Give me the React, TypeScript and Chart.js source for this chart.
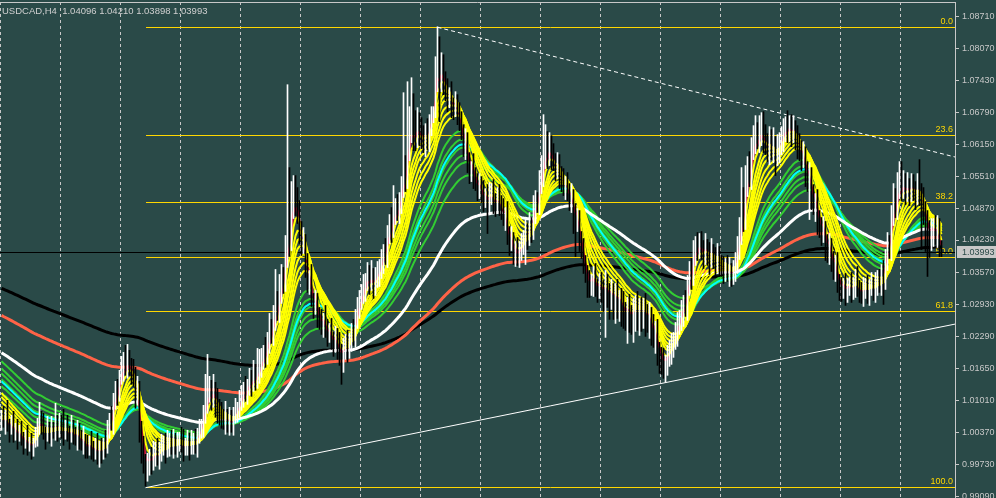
import React, { useEffect, useRef } from "react";
import { Chart, registerables } from "chart.js";

Chart.register(...registerables);

// ---------- data (prices expressed as points above 1.0000, 1 point = 0.0001) ----------
const TITLE = "USDCAD,H4  1.04096 1.04210 1.03898 1.03993";
const PRICE_TICKS = [1.0871, 1.0807, 1.0743, 1.0679, 1.0615, 1.0551, 1.0487, 1.0423, 1.0357, 1.0293, 1.0229, 1.0165, 1.0101, 1.0037, 0.9973, 0.9909];
const BID = 1.03993;
const FIB_LEVELS = [0, 23.6, 38.2, 50, 61.8, 100];
const FIB_HIGH = 1.08505;
const FIB_LOW = 0.99294;
const FIB_START_BAR = 72;
const TREND_RES = [[218, 1.0849], [476, 1.059]];
const TREND_SUP = [[72, 0.9927], [476, 1.0254]];
const FIRST_OPEN = 62;

const CLOSE_PTS = [
  68, 60, 72, 56, 48, 54, 40, 44, 32, 36,
  28, 20, 24, 12, 16, 8, 18, 32, 48, 68,
  56, 40, 32, 44, 36, 48, 40, 56, 44, 52,
  44, 36, 48, 40, 32, 44, 36, 28, 40, 24,
  16, 24, 12, 4, 16, 8, 0, 8, -4, 4,
  0, 12, 8, 44, 64, 56, 100, 120, 112, 148,
  160, 172, 164, 180, 168, 156, 144, 112, 120, 48,
  12, -16, -36, -28, -12, -20, -8, 4, -12, 0,
  8, 16, 0, 12, 24, 12, 20, 8, 16, 28,
  16, 4, 12, 20, 8, 16, 24, 12, 28, 40,
  48, 68, 94, 114, 120, 108, 120, 100, 84, 76,
  68, 60, 72, 56, 64, 52, 68, 76, 84, 96,
  108, 120, 112, 128, 140, 132, 148, 140, 156, 164,
  176, 192, 188, 214, 236, 228, 262, 284, 276, 310,
  344, 336, 392, 432, 420, 480, 512, 498, 476, 440,
  412, 420, 372, 336, 344, 304, 292, 300, 268, 260,
  252, 264, 244, 232, 240, 224, 216, 228, 208, 200,
  188, 204, 216, 204, 224, 236, 228, 268, 284, 304,
  312, 324, 340, 352, 336, 348, 332, 344, 352, 364,
  380, 396, 388, 432, 448, 440, 472, 484, 476, 492,
  520, 552, 540, 600, 640, 656, 632, 628, 648, 636,
  628, 616, 636, 624, 648, 672, 680, 736, 790, 740,
  764, 740, 720, 704, 712, 696, 684, 696, 676, 660,
  640, 612, 620, 576, 560, 568, 552, 536, 524, 532,
  516, 504, 512, 496, 508, 520, 504, 492, 508, 496,
  484, 468, 476, 432, 416, 424, 392, 400, 388, 404,
  412, 424, 436, 428, 452, 444, 484, 500, 496, 532,
  552, 584, 604, 592, 608, 588, 576, 564, 572, 552,
  540, 528, 536, 520, 504, 512, 476, 460, 468, 424,
  404, 380, 352, 336, 328, 340, 352, 332, 324, 336,
  328, 320, 336, 324, 312, 320, 308, 316, 300, 308,
  296, 284, 272, 288, 280, 268, 284, 296, 280, 288,
  280, 292, 276, 268, 276, 248, 236, 244, 204, 192,
  184, 172, 180, 192, 204, 212, 224, 236, 252, 264,
  280, 296, 288, 332, 356, 348, 400, 412, 404, 416,
  404, 392, 408, 396, 384, 400, 388, 380, 392, 376,
  368, 360, 372, 356, 364, 352, 364, 376, 400, 428,
  468, 460, 532, 560, 548, 600, 616, 628, 620, 632,
  640, 624, 612, 604, 616, 600, 608, 592, 604, 612,
  624, 636, 648, 640, 652, 636, 644, 628, 616, 604,
  588, 596, 560, 544, 552, 512, 496, 504, 464, 452,
  440, 448, 416, 404, 412, 380, 368, 376, 340, 328,
  324, 332, 320, 328, 336, 324, 332, 344, 328, 320,
  316, 324, 332, 320, 328, 336, 324, 332, 344, 336,
  352, 344, 388, 412, 404, 468, 496, 488, 524, 532,
  524, 536, 520, 528, 516, 532, 524, 512, 528, 516,
  504, 484, 460, 444, 428, 440, 452, 436, 448, 409.6,
  399.3,
];

const UP_WICK = [
  14, 22, 10, 30, 8, 18, 26, 12, 20, 16,
  24, 10, 18, 28, 12, 20, 8, 16, 18, 30,
  12, 20, 8, 26, 14, 22, 10, 40, 16, 24,
  20, 40, 14, 24, 10, 28, 18, 12, 22, 16,
  18, 26, 10, 20, 14, 24, 12, 18, 28, 16,
  22, 14, 30, 18, 12, 26, 16, 20, 24, 14,
  30, 26, 40, 34, 22, 18, 28, 24, 30, 20,
  12, 18, 10, 24, 16, 20, 28, 14, 22, 18,
  26, 14, 20, 30, 12, 18, 24, 16, 22, 10,
  20, 28, 14, 22, 16, 26, 12, 20, 18, 24,
  16, 24, 60, 80, 30, 22, 34, 18, 26, 20,
  22, 16, 28, 12, 24, 18, 20, 30, 14, 26,
  24, 18, 30, 16, 26, 22, 34, 20, 50, 40,
  30, 20, 36, 24, 40, 28, 30, 80, 36, 44,
  30, 24, 40, 302, 136, 60, 40, 40, 30, 26,
  20, 28, 14, 24, 18, 30, 12, 22, 16, 20,
  24, 12, 28, 20, 16, 26, 14, 22, 18, 30,
  14, 22, 18, 26, 12, 20, 28, 16, 24, 18,
  22, 30, 16, 26, 20, 34, 18, 24, 28, 20,
  24, 18, 30, 20, 26, 40, 60, 22, 30, 26,
  30, 166, 40, 140, 50, 92, 60, 50, 40, 30,
  32, 24, 20, 30, 26, 18, 10, 54, 60, 40,
  34, 30, 20, 26, 16, 28, 12, 24, 18, 22,
  20, 14, 26, 18, 22, 12, 28, 16, 20, 24,
  18, 26, 14, 22, 30, 16, 24, 12, 20, 26,
  16, 22, 12, 24, 18, 26, 14, 20, 28, 16,
  24, 18, 30, 20, 26, 16, 28, 22, 18, 30,
  40, 90, 50, 36, 30, 24, 28, 20, 26, 22,
  18, 26, 14, 22, 16, 24, 12, 20, 18, 14,
  16, 22, 12, 20, 26, 14, 18, 24, 12, 20,
  22, 14, 26, 18, 12, 24, 16, 20, 28, 14,
  18, 24, 14, 20, 26, 12, 22, 16, 24, 18,
  20, 14, 24, 18, 22, 12, 26, 16, 20, 14,
  16, 22, 12, 20, 18, 24, 14, 22, 26, 18,
  22, 16, 26, 20, 24, 30, 22, 18, 26, 20,
  24, 18, 28, 16, 22, 26, 14, 20, 24, 18,
  16, 22, 14, 20, 24, 12, 18, 22, 30, 40,
  100, 60, 40, 30, 40, 28, 36, 44, 30, 40,
  38, 40, 30, 24, 34, 28, 40, 22, 30, 26,
  26, 30, 22, 34, 20, 22, 28, 18, 24, 20,
  18, 24, 14, 20, 26, 16, 22, 12, 20, 18,
  16, 22, 12, 18, 24, 14, 20, 16, 22, 14,
  20, 14, 24, 18, 12, 22, 16, 20, 26, 14,
  18, 24, 14, 20, 16, 22, 12, 26, 18, 20,
  22, 30, 16, 26, 20, 24, 40, 30, 34, 48,
  48, 26, 20, 30, 18, 24, 22, 16, 28, 56,
  20, 24, 16, 22, 18, 26, 14, 20, 24, 18,
  11.4,
];

const DOWN_WICK = [
  20, 12, 26, 16, 30, 14, 22, 18, 28, 12,
  16, 26, 14, 20, 12, 24, 18, 10, 22, 14,
  22, 16, 28, 12, 20, 26, 14, 18, 24, 16,
  18, 24, 12, 20, 28, 14, 22, 16, 26, 20,
  14, 22, 26, 18, 12, 24, 20, 16, 22, 28,
  24, 16, 20, 12, 18, 14, 22, 16, 20, 12,
  14, 20, 12, 18, 16, 22, 14, 26, 20, 30,
  36, 28, 34, 24, 20, 26, 18, 22, 16, 24,
  20, 16, 24, 12, 22, 18, 26, 14, 20, 16,
  18, 24, 12, 20, 26, 14, 22, 16, 24, 12,
  14, 20, 12, 18, 16, 26, 20, 32, 28, 24,
  22, 16, 26, 18, 24, 14, 20, 12, 18, 16,
  14, 20, 12, 18, 16, 22, 12, 18, 14, 20,
  16, 12, 20, 14, 18, 12, 16, 20, 14, 18,
  14, 20, 16, 24, 30, 18, 14, 26, 20, 24,
  20, 16, 24, 18, 22, 14, 26, 18, 20, 16,
  18, 24, 16, 22, 14, 20, 26, 18, 24, 28,
  54, 30, 20, 26, 18, 24, 16, 20, 22, 18,
  20, 16, 24, 18, 22, 14, 26, 20, 16, 22,
  18, 24, 14, 20, 16, 22, 12, 18, 14, 20,
  16, 12, 20, 14, 18, 22, 30, 26, 20, 24,
  22, 18, 26, 20, 24, 16, 14, 12, 16, 80,
  20, 26, 18, 24, 16, 28, 20, 14, 22, 18,
  16, 22, 28, 18, 24, 20, 26, 14, 22, 18,
  18, 24, 16, 60, 20, 14, 28, 22, 16, 24,
  20, 16, 26, 18, 24, 14, 18, 22, 16, 20,
  22, 18, 50, 24, 16, 26, 20, 28, 18, 22,
  16, 22, 18, 26, 20, 24, 14, 22, 18, 26,
  20, 16, 24, 18, 22, 26, 40, 70, 20, 24,
  18, 24, 14, 28, 20, 16, 30, 22, 26, 18,
  30, 40, 92, 36, 48, 28, 44, 52, 34, 40,
  46, 38, 30, 56, 42, 34, 50, 44, 38, 48,
  40, 34, 46, 30, 42, 36, 28, 40, 32, 36,
  30, 26, 34, 28, 22, 30, 24, 20, 26, 18,
  22, 30, 18, 26, 20, 24, 16, 28, 22, 18,
  20, 26, 18, 24, 30, 16, 22, 28, 20, 26,
  18, 24, 20, 16, 26, 22, 18, 24, 20, 16,
  14, 20, 16, 22, 18, 24, 16, 20, 14, 22,
  20, 26, 18, 24, 30, 16, 22, 40, 20, 26,
  18, 24, 16, 22, 20, 26, 18, 24, 30, 22,
  26, 20, 30, 24, 80, 28, 22, 36, 30, 24,
  28, 22, 34, 26, 30, 20, 24, 28, 22, 26,
  24, 18, 28, 22, 16, 26, 20, 24, 18, 22,
  20, 26, 18, 24, 28, 16, 22, 26, 20, 18,
  24, 50, 20, 26, 18, 22, 16, 20, 24, 18,
  22, 18, 26, 20, 24, 16, 22, 28, 18, 24,
  100, 30, 60, 94, 40, 26, 30, 22, 28, 20,
  9.5,
];

// moving averages: period and starting value (points) read at the left edge
const RED_EMA = { period: 3, seed: 64 };
const YELLOW_PERIODS = [5, 8, 10, 12, 15, 18, 21];
const YELLOW_SEEDS = [66, 74, 84, 94, 104, 114, 122];
const GREEN_PERIODS = [30, 35, 40, 45, 50, 60];
const GREEN_SEEDS = [120, 134, 148, 160, 170, 184];
const CYAN_EMA = { period: 38, seed: 144 };
const WHITE_EMA = { period: 100, seed: 200 };
const TOMATO_EMA = { period: 200, seed: 274 };
const BLACK_EMA = { period: 300, seed: 328 };

// ---------- helpers ----------
const BG = "#2a4a48";
const GRID = "#c8c8c8";
const FIB = "#ffd700";
const FONT = "'Liberation Sans', Arial, sans-serif";
const toPrice = (p: number) => 1 + p / 10000;

function ema(values: number[], period: number, seedPts: number) {
  const k = 2 / (period + 1);
  let e = toPrice(seedPts);
  return values.map((v) => (e = e + k * (v - e)));
}

const mtPlugin = {
  id: "mtDecor",
  beforeDraw(chart: any) {
    const { ctx } = chart;
    ctx.save();
    ctx.fillStyle = BG;
    ctx.fillRect(0, 0, chart.width, chart.height);
    ctx.restore();
  },
  beforeDatasetsDraw(chart: any) {
    const { ctx, chartArea: a, scales } = chart;
    const x = scales.x;
    const y = scales.y;
    ctx.save();
    // vertical dashed grid
    ctx.strokeStyle = GRID;
    ctx.lineWidth = 1;
    ctx.setLineDash([3, 3]);
    for (let b = -0.5; x.getPixelForValue(b) < a.right - 2; b += 30) {
      const px = x.getPixelForValue(b);
      ctx.beginPath();
      ctx.moveTo(px, a.top);
      ctx.lineTo(px, a.bottom);
      ctx.stroke();
    }
    ctx.setLineDash([]);
    // top frame
    ctx.beginPath();
    ctx.moveTo(0, a.top + 0.5);
    ctx.lineTo(a.right, a.top + 0.5);
    ctx.stroke();
    // fibonacci levels
    ctx.strokeStyle = FIB;
    ctx.fillStyle = FIB;
    ctx.font = `9px ${FONT}`;
    ctx.textAlign = "right";
    ctx.textBaseline = "bottom";
    const fx = Math.round(x.getPixelForValue(FIB_START_BAR));
    FIB_LEVELS.forEach((lv) => {
      const price = FIB_HIGH - ((FIB_HIGH - FIB_LOW) * lv) / 100;
      const py = Math.round(y.getPixelForValue(price)) + 0.5;
      ctx.beginPath();
      ctx.moveTo(fx, py);
      ctx.lineTo(a.right, py);
      ctx.stroke();
      ctx.fillText(lv.toFixed(1), a.right - 2, py - 1);
    });
    // trend lines
    const drawTrend = (pts: number[][], dash: number[]) => {
      const [[b1, p1], [b2, p2]] = pts;
      const slope = (p2 - p1) / (b2 - b1);
      const bEnd = x.getValueForPixel(a.right);
      ctx.strokeStyle = "#ffffff";
      ctx.setLineDash(dash);
      ctx.beginPath();
      ctx.moveTo(x.getPixelForValue(b1), y.getPixelForValue(p1));
      ctx.lineTo(a.right, y.getPixelForValue(p1 + slope * (bEnd - b1)));
      ctx.stroke();
    };
    drawTrend(TREND_RES, [4, 3]);
    drawTrend(TREND_SUP, []);
    ctx.setLineDash([]);
    // bid line
    const by = Math.round(y.getPixelForValue(BID)) + 0.5;
    ctx.strokeStyle = "#000000";
    ctx.beginPath();
    ctx.moveTo(a.left, by);
    ctx.lineTo(a.right, by);
    ctx.stroke();
    ctx.restore();
  },
  afterDraw(chart: any) {
    const { ctx, chartArea: a, scales } = chart;
    const y = scales.y;
    ctx.save();
    ctx.fillStyle = "#d0d0d0";
    ctx.font = `9.5px ${FONT}`;
    ctx.textAlign = "left";
    ctx.textBaseline = "middle";
    ctx.fillText(TITLE, 2, 11);
    // bid label
    const by = Math.round(y.getPixelForValue(BID));
    ctx.fillStyle = "#c8c8c8";
    ctx.fillRect(a.right + 2, by - 6, chart.width - a.right - 2, 12);
    ctx.fillStyle = BG;
    ctx.font = `9px ${FONT}`;
    ctx.fillText(BID.toFixed(5), a.right + 7, by + 0.5);
    ctx.restore();
  },
};

export default function App() {
  const ref = useRef<HTMLCanvasElement | null>(null);
  useEffect(() => {
    document.body.style.margin = "0";
    const closes = CLOSE_PTS.map(toPrice);
    const opens = closes.map((c, i) => (i === 0 ? toPrice(FIRST_OPEN) : closes[i - 1]));
    const highs = closes.map((c, i) => Math.max(c, opens[i]) + UP_WICK[i] / 10000);
    const lows = closes.map((c, i) => Math.min(c, opens[i]) - DOWN_WICK[i] / 10000);
    const pts = (arr: number[]) => arr.map((v, i) => ({ x: i, y: v }));
    const line = (data: number[], color: string, width: number, order: number) => ({
      type: "line",
      data: pts(data),
      borderColor: color,
      borderWidth: width,
      pointRadius: 0,
      fill: false,
      tension: 0,
      order,
    });
    const datasets: any[] = [
      {
        type: "bar",
        data: closes.map((c, i) => ({ x: i, y: [lows[i], highs[i]] })),
        backgroundColor: closes.map((c, i) => (c >= opens[i] ? "#ffffff" : "#000000")),
        borderWidth: 0,
        barThickness: 1,
        order: 0,
      },
    ];
    YELLOW_PERIODS.forEach((p, j) => datasets.push(line(ema(closes, p, YELLOW_SEEDS[j]), "#ffff00", 2, 2)));
    datasets.push(line(ema(closes, RED_EMA.period, RED_EMA.seed), "#dc143c", 2, 3));
    datasets.push(line(ema(closes, WHITE_EMA.period, WHITE_EMA.seed), "#ffffff", 3, 4));
    datasets.push(line(ema(closes, CYAN_EMA.period, CYAN_EMA.seed), "#00ffff", 2, 5));
    GREEN_PERIODS.forEach((p, j) =>
      datasets.push(line(ema(closes, p, GREEN_SEEDS[j]), "#32cd32", 2, 6))
    );
    datasets.push(line(ema(closes, TOMATO_EMA.period, TOMATO_EMA.seed), "#ff6347", 3, 7));
    datasets.push(line(ema(closes, BLACK_EMA.period, BLACK_EMA.seed), "#000000", 3, 8));

    const chart = new Chart(ref.current as HTMLCanvasElement, {
      type: "bar",
      data: { datasets },
      options: {
        responsive: false,
        animation: false,
        devicePixelRatio: 1,
        events: [],
        layout: { padding: { top: 2, left: 0, right: 0, bottom: 0 }, autoPadding: false },
        plugins: { legend: { display: false }, tooltip: { enabled: false } },
        scales: {
          x: { type: "linear", min: -0.75, max: 476.75, offset: false, display: false },
          y: {
            position: "right",
            min: 0.99064,
            max: 1.08996,
            afterFit: (s: any) => {
              s.width = 41;
              s.paddingTop = 0;
              s.paddingBottom = 0;
            },
            afterBuildTicks: (s: any) => {
              s.ticks = PRICE_TICKS.map((v) => ({ value: v }));
            },
            ticks: {
              color: "#c8c8c8",
              font: { family: FONT, size: 9 },
              padding: 3,
              autoSkip: false,
              callback: (v: any) => Number(v).toFixed(5),
            },
            grid: { drawOnChartArea: false, drawTicks: true, tickLength: 4, color: GRID },
            border: { display: true, color: GRID },
          },
        },
      } as any,
      plugins: [mtPlugin],
    } as any);
    return () => chart.destroy();
  }, []);
  return (
    <div style={{ width: 996, height: 498 }}>
      <canvas ref={ref} width={996} height={498} style={{ display: "block" }} />
    </div>
  );
}
